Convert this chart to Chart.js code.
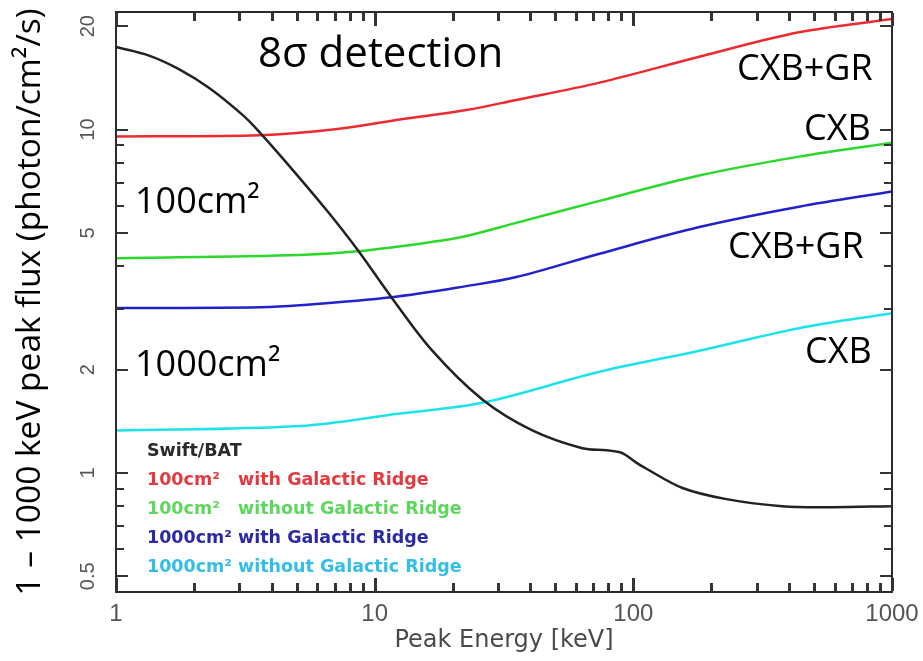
<!DOCTYPE html>
<html>
<head>
<meta charset="utf-8">
<script src="https://cdn.jsdelivr.net/npm/chart.js@4.4.0/dist/chart.umd.min.js"></script>
<style>
  html, body { margin: 0; padding: 0; background: #fff; }
  #wrap { width: 923px; height: 661px; }
</style>
</head>
<body>
<div id="wrap"><canvas id="fluxChart"></canvas></div>
<script>
// values (keV, photon/cm2/s)
const batEnergy = [1, 1.35, 1.75, 2.3, 3.1, 3.6, 4.7, 6.5, 8.6, 11.6, 16.7, 26, 40.7, 63.5, 79, 88, 93, 103, 112, 155, 229, 376, 587, 1000];
const batFlux   = [17.4, 16.4, 15.0, 13.2, 11.0, 9.8, 7.8, 5.84, 4.46, 3.25, 2.27, 1.64, 1.33, 1.18, 1.165, 1.15, 1.13, 1.07, 1.03, 0.904, 0.839, 0.80, 0.795, 0.80];

const red100Energy = [1, 3.6, 6.9, 12.5, 22.6, 35.3, 74, 180, 437, 1000];
const red100Flux   = [9.55, 9.62, 10.0, 10.7, 11.4, 12.2, 13.7, 16.3, 19.2, 21.0];

const green100Energy = [1, 5.13, 8.6, 16.7, 22.6, 35.3, 74, 180, 437, 1000];
const green100Flux   = [4.22, 4.31, 4.42, 4.71, 4.9, 5.35, 6.2, 7.35, 8.34, 9.16];

const blue1000Energy = [1, 3.6, 5.13, 11.6, 22.6, 35.3, 74, 180, 437, 1000];
const blue1000Flux   = [3.02, 3.04, 3.08, 3.25, 3.5, 3.72, 4.35, 5.2, 5.96, 6.6];

const cyan1000Energy = [1, 5.13, 12.5, 26, 74, 180, 437, 1000];
const cyan1000Flux   = [1.33, 1.37, 1.49, 1.60, 1.97, 2.27, 2.64, 2.92];

const xMajor = [1, 10, 100, 1000];
const xMinor = [2, 3, 4, 5, 6, 7, 8, 9, 20, 30, 40, 50, 60, 70, 80, 90, 200, 300, 400, 500, 600, 700, 800, 900];
const yMajor = [0.5, 1, 2, 5, 10, 20];
const yMinor = [0.6, 0.7, 0.8, 0.9, 3, 4, 6, 7, 8, 9];

const legendLines = ['Swift/BAT', '100cm\u00b2   with Galactic Ridge', '100cm\u00b2   without Galactic Ridge',
                     '1000cm\u00b2 with Galactic Ridge', '1000cm\u00b2 without Galactic Ridge'];
const legendColors = ['#2a2a2a', '#e23a3e', '#5fd75f', '#2a2aa8', '#33bde8'];

const toPoints = (xs, ys) => xs.map((v, i) => ({ x: v, y: ys[i] }));

function curve(label, xs, ys, color) {
  return {
    label: label,
    data: toPoints(xs, ys),
    borderColor: color,
    borderWidth: 2.5,
    pointRadius: 0,
    fill: false,
    showLine: true,
    tension: 0.35
  };
}

// frame, inward ticks, and the texts written inside the plot
const decorations = {
  id: 'decorations',
  afterDraw(chart) {
    const ctx = chart.ctx;
    const a = chart.chartArea;
    const xs = chart.scales.x;
    const ys = chart.scales.y;
    ctx.save();
    ctx.strokeStyle = '#2b2b2b';
    ctx.lineWidth = 2;
    ctx.strokeRect(a.left, a.top, a.right - a.left, a.bottom - a.top);

    ctx.fillStyle = '#333333';
    for (const v of yMajor.concat(yMinor)) {
      const len = yMajor.indexOf(v) >= 0 ? 12 : 8;
      const py = Math.round(ys.getPixelForValue(v));
      ctx.fillRect(a.left, py - 1, len, 2);
      ctx.fillRect(a.right - len, py - 1, len, 2);
    }
    const bottom = Math.round(a.bottom);
    const top = Math.round(a.top);
    for (const v of xMajor.concat(xMinor)) {
      const len = xMajor.indexOf(v) >= 0 ? 13 : 8;
      const px = Math.round(xs.getPixelForValue(v));
      ctx.fillRect(px - 1, bottom - len - 1, 3, len);
      ctx.fillRect(px - 1, top + 1, 3, len);
    }

    ctx.fillStyle = '#000';
    ctx.textBaseline = 'alphabetic';
    ctx.font = '42px "Open Sans"';
    ctx.fillText('8\u03c3 detection', 258, 67);
    ctx.font = '36px "Open Sans"';
    ctx.fillText('100cm\u00b2', 135, 213);
    ctx.fillText('1000cm\u00b2', 135, 376);
    ctx.fillText('CXB+GR', 737, 80);
    ctx.fillText('CXB', 804, 140);
    ctx.fillText('CXB+GR', 728, 258);
    ctx.fillText('CXB', 805, 363);

    ctx.font = 'bold 17.5px "DejaVu Sans"';
    legendLines.forEach((t, i) => {
      ctx.fillStyle = legendColors[i];
      ctx.fillText(t, 147, 456 + i * 29);
    });
    ctx.restore();
  }
};

new Chart(document.getElementById('fluxChart'), {
  type: 'scatter',
  data: {
    datasets: [
      curve('Swift/BAT', batEnergy, batFlux, '#222222'),
      curve('100cm2 with Galactic Ridge', red100Energy, red100Flux, '#ec2a30'),
      curve('100cm2 without Galactic Ridge', green100Energy, green100Flux, '#2bd82b'),
      curve('1000cm2 with Galactic Ridge', blue1000Energy, blue1000Flux, '#2222cc'),
      curve('1000cm2 without Galactic Ridge', cyan1000Energy, cyan1000Flux, '#1ee2ea')
    ]
  },
  options: {
    responsive: true,
    maintainAspectRatio: false,
    animation: false,
    layout: { padding: { top: 12, right: 31, left: 0, bottom: 0 } },
    plugins: { legend: { display: false }, tooltip: { enabled: false } },
    scales: {
      x: {
        type: 'logarithmic',
        min: 1,
        max: 1000,
        grid: { display: false },
        border: { display: false },
        afterBuildTicks: s => { s.ticks = xMajor.map(v => ({ value: v })); },
        afterFit: s => { s.height = 69; s.paddingLeft = 0; s.paddingRight = 0; },
        ticks: {
          autoSkip: false, maxRotation: 0, padding: 0,
          color: '#555',
          font: { family: '"Liberation Sans"', size: 24 },
          callback: v => String(v)
        },
        title: {
          display: true, text: 'Peak Energy [keV]', color: '#4a4a4a',
          font: { family: '"DejaVu Sans"', size: 24 },
          padding: { top: 0, bottom: 6 }
        }
      },
      y: {
        type: 'logarithmic',
        min: 0.45,
        max: 22,
        grid: { display: false },
        border: { display: false },
        afterBuildTicks: s => { s.ticks = yMajor.map(v => ({ value: v })); },
        afterFit: s => { s.width = 116; s.paddingTop = 0; s.paddingBottom = 0; },
        ticks: {
          autoSkip: false, minRotation: 90, maxRotation: 90, padding: 6,
          crossAlign: 'center',
          color: '#555',
          font: { family: '"Liberation Sans"', size: 20 },
          callback: v => String(v)
        },
        title: {
          display: true, text: '1 \u2013 1000 keV peak flux (photon/cm\u00b2/s)', color: '#000',
          font: { family: '"Open Sans"', size: 33.5 },
          padding: { top: 10, bottom: 0 }
        }
      }
    }
  },
  plugins: [decorations]
});
</script>
</body>
</html>
